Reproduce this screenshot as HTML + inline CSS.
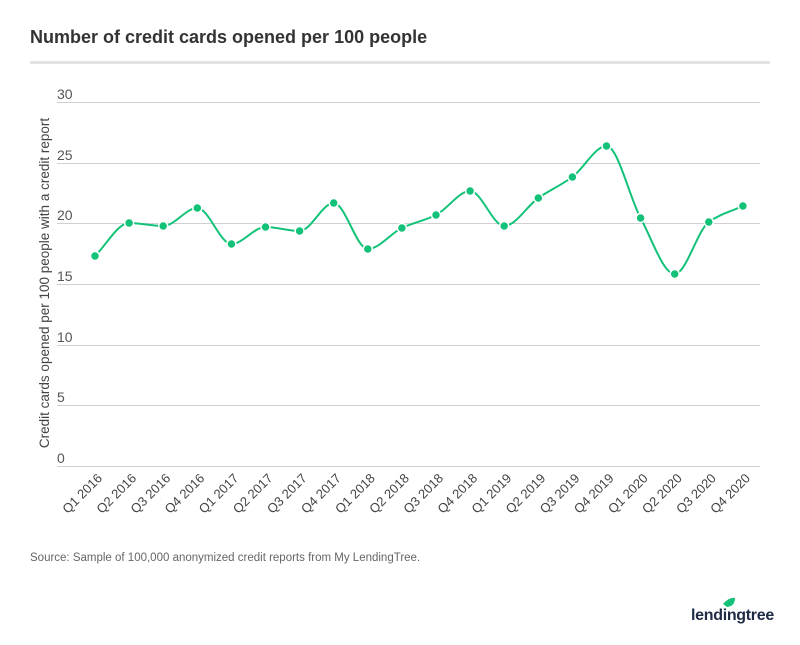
<!DOCTYPE html>
<html><head><meta charset="utf-8"><style>
body{margin:0;background:#fff;width:800px;height:640px;overflow:hidden;font-family:"Liberation Sans",sans-serif}
</style></head><body>
<svg width="800" height="640" xmlns="http://www.w3.org/2000/svg" font-family="Liberation Sans, sans-serif">
<text x="30" y="43" font-size="18" font-weight="bold" fill="#333">Number of credit cards opened per 100 people</text>
<rect x="30" y="61" width="740" height="3" fill="#e3e3e3"/>
<g stroke="#d0d0d0" stroke-width="1">
<line x1="57" x2="760" y1="102.5" y2="102.5"/><line x1="57" x2="760" y1="163.5" y2="163.5"/>
<line x1="57" x2="760" y1="223.5" y2="223.5"/><line x1="57" x2="760" y1="284.5" y2="284.5"/>
<line x1="57" x2="760" y1="345.5" y2="345.5"/><line x1="57" x2="760" y1="405.5" y2="405.5"/>
<line x1="57" x2="760" y1="466.5" y2="466.5"/>
</g>
<g font-size="14" fill="#555">
<text x="57" y="99">30</text><text x="57" y="160">25</text><text x="57" y="220">20</text>
<text x="57" y="281">15</text><text x="57" y="342">10</text><text x="57" y="402">5</text><text x="57" y="463">0</text>
</g>
<text transform="translate(49,283) rotate(-90)" text-anchor="middle" font-size="13.5" fill="#444">Credit cards opened per 100 people with a credit report</text>
<g id="xl" font-size="13" fill="#444"></g>
<path id="ln" fill="none" stroke="#12c278" stroke-width="2"/>
<g id="pts"></g>
<text x="30" y="561" font-size="11.5" fill="#666">Source: Sample of 100,000 anonymized credit reports from My LendingTree.</text>
<path d="M723 604 q6 -7 12 -6 q0 8 -8 9 z" fill="#12c278"/>
<text x="691" y="620" font-size="16" font-weight="bold" fill="#1f2a44" letter-spacing="-0.3">lendingtree</text>
</svg>
<script>
var ys=[256,223,226,208,244,227,231,203,249,228,215,191,226,198,177,146,218,274,222,206];
var labels=["Q1 2016","Q2 2016","Q3 2016","Q4 2016","Q1 2017","Q2 2017","Q3 2017","Q4 2017","Q1 2018","Q2 2018","Q3 2018","Q4 2018","Q1 2019","Q2 2019","Q3 2019","Q4 2019","Q1 2020","Q2 2020","Q3 2020","Q4 2020"];
var n=ys.length,xs=[];for(var i=0;i<n;i++)xs.push(95+i*34.1);
var d=[],m=[];for(i=0;i<n-1;i++)d.push((ys[i+1]-ys[i])/(xs[i+1]-xs[i]));
m[0]=d[0];m[n-1]=d[n-2];
for(i=1;i<n-1;i++){if(d[i-1]*d[i]<=0)m[i]=0;else{var a=d[i-1],b=d[i];m[i]=2*a*b/(a+b);}}
var p="M"+xs[0]+" "+ys[0];
for(i=0;i<n-1;i++){var h=(xs[i+1]-xs[i])/3;p+=" C"+(xs[i]+h)+" "+(ys[i]+m[i]*h)+" "+(xs[i+1]-h)+" "+(ys[i+1]-m[i+1]*h)+" "+xs[i+1]+" "+ys[i+1];}
document.getElementById("ln").setAttribute("d",p);
var ns="http://www.w3.org/2000/svg",g=document.getElementById("pts"),xl=document.getElementById("xl");
for(i=0;i<n;i++){var c=document.createElementNS(ns,"circle");c.setAttribute("cx",xs[i]);c.setAttribute("cy",ys[i]);c.setAttribute("r",4.5);c.setAttribute("fill","#12c278");c.setAttribute("stroke","#fff");c.setAttribute("stroke-width","1.5");g.appendChild(c);
var t=document.createElementNS(ns,"text");t.setAttribute("text-anchor","end");t.setAttribute("transform","translate("+(xs[i]+8)+",479) rotate(-45)");t.textContent=labels[i];xl.appendChild(t);}
</script>
</body></html>
